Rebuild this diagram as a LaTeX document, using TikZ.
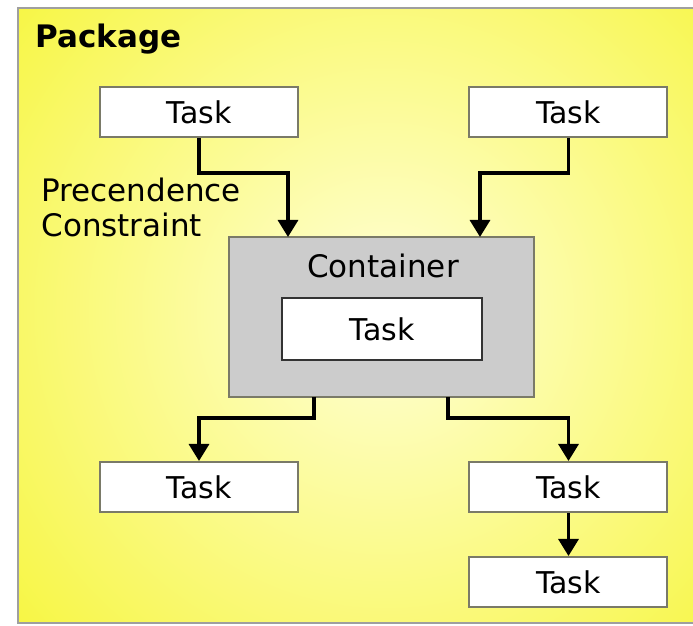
\documentclass[tikz,border=0pt]{standalone}
\usepackage{fontspec}
\setmainfont{DejaVu Sans}
\usetikzlibrary{arrows.meta}
\definecolor{pkgyellow}{HTML}{F6F533}
\definecolor{pkglight}{HTML}{FFFFD8}
\definecolor{boxline}{HTML}{7A7A68}
\definecolor{contfill}{HTML}{CCCCCC}

\begin{document}
\begin{tikzpicture}[x=0.5pt,y=0.5pt]
    \tikzstyle{task}=[draw=boxline,line width=1pt,fill=white,minimum width=99pt,minimum height=25pt,inner sep=0pt,font=\fontsize{15}{18}\selectfont]
    \tikzstyle{flow}=[line width=1.6pt,-{Triangle[width=10pt,length=8.5pt]}]
    \tikzstyle{label}=[inner sep=0pt,font=\fontsize{15.5}{17.5}\selectfont]
    \useasboundingbox (0,0) rectangle (693,626);
    \begin{scope}
        \clip (18,3) rectangle (693,618);
        \fill[pkgyellow] (18,3) rectangle (693,618);
        \shade[inner color=pkglight,outer color=pkgyellow] (385,315) circle (540);
    \end{scope}
    \draw[gray!75,line width=1pt] (700,618) -- (18,618) -- (18,3) -- (700,3);
    \node[label,anchor=base west,font=\fontsize{15.5}{18}\selectfont\bfseries] (pkg) at (35,578) {Package};
    \node[label,anchor=north west,align=left] (prec) at (41,448) {Precendence\\Constraint};
    \node[task] (t1) at (199,514) {Task};
    \node[task] (t2) at (568.5,514) {Task};
    \node[draw=boxline,line width=1pt,fill=contfill,minimum width=152.5pt,minimum height=80pt,inner sep=0pt] (cont) at (381.5,309) {};
    \node[label] (clabel) at (383,360) {Container};
    \node[task,draw=black!80,line width=1.3pt,minimum width=100pt,minimum height=31pt] (t0) at (382,297) {Task};
    \node[task] (t3) at (199,139) {Task};
    \node[task] (t4) at (568.5,139) {Task};
    \node[task] (t5) at (568.5,44) {Task};
    \coordinate (in1) at (288,389);
    \coordinate (in2) at (480,389);
    \coordinate (out1) at (314,229);
    \coordinate (out2) at (448,229);
    \draw[flow] (t1.south) -- ++(0,-35) -| (in1);
    \draw[flow] (t2.south) -- ++(0,-35) -| (in2);
    \draw[flow] (out1) -- ++(0,-21) -| (t3.north);
    \draw[flow] (out2) -- ++(0,-21) -| (t4.north);
    \draw[flow] (t4) -- (t5);
\end{tikzpicture}
\end{document}
